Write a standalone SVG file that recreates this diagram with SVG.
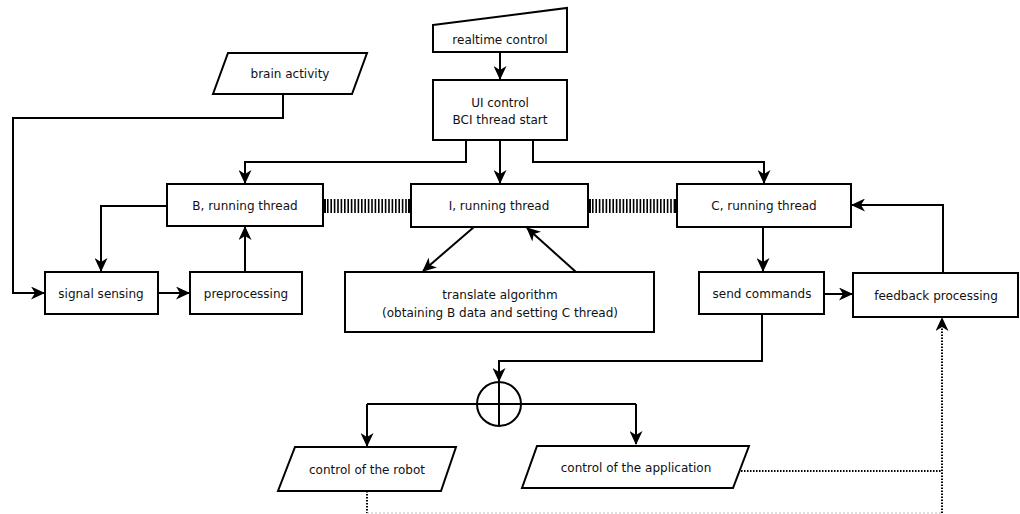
<svg xmlns="http://www.w3.org/2000/svg" width="1020" height="514" viewBox="0 0 1020 514">
<style>
.n{fill:#fff;stroke:#000;stroke-width:2}
.t{font-family:"DejaVu Sans",Verdana,sans-serif;font-size:12px;fill:#111;text-anchor:middle}
.c{fill:none;stroke:#000;stroke-width:2}
.a{marker-end:url(#arr)}
.d{fill:none;stroke:#000;stroke-width:2;stroke-dasharray:1.5 1.5}
.bar{fill:none;stroke:#000;stroke-width:14;stroke-dasharray:1.6 1.8}
.blk{fill:#000}
</style>
<defs>
<marker id="arr" markerUnits="userSpaceOnUse" markerWidth="14" markerHeight="13" refX="13" refY="6.5" orient="auto">
<path d="M0,0 L14,6.5 L0,13 L4,6.5 Z" fill="#000"/>
</marker>
</defs>
<rect width="1020" height="514" fill="#fff"/>
<g id="connectors">
<path class="c a" d="M500,52 V79"/>
<path class="c a" d="M466,140 V162 H245 V183"/>
<path class="c a" d="M500,140 V183"/>
<path class="c a" d="M533,140 V162 H764 V183"/>
<path class="c a" d="M283,94 V118 H13 V293 H44"/>
<path class="c a" d="M167,206 H101 V271"/>
<path class="c a" d="M158,293 H189"/>
<path class="c a" d="M245,272 V227"/>
<path class="c a" d="M474,227 L423,271"/>
<path class="c a" d="M576,272 L527,228"/>
<path class="c a" d="M763,227 V271"/>
<path class="c a" d="M824,294 H852"/>
<path class="c a" d="M943,273 V205 H852"/>
<path class="c a" d="M762,314 V361 H499 V381"/>
<path class="c a" d="M367,404 V446"/>
<path class="c a" d="M636,404 V444"/>
<path class="d" d="M741,471 H942"/>
<path class="d" d="M367,491 V513"/>
<path d="M367,513 H942" fill="none" stroke="#bbb" stroke-width="1" stroke-dasharray="2 2"/>
<path class="d a" d="M942,513 V318"/>
<path class="bar" d="M327,206 H408"/>
<rect class="blk" x="323" y="199" width="3" height="14"/>
<rect class="blk" x="408" y="199" width="3" height="14"/>
<path class="bar" d="M592,206 H674"/>
<rect class="blk" x="588" y="199" width="3" height="14"/>
<rect class="blk" x="674" y="199" width="3" height="14"/>
</g>
<g id="realtime-control">
<path class="n" d="M433,25 L567,8 L567,52 L433,52 Z"/>
<text class="t" x="500" y="44">realtime control</text>
</g>
<g id="ui-control">
<rect class="n" x="433" y="80" width="134" height="60"/>
<text class="t" x="500" y="107">UI control</text>
<text class="t" x="500" y="124">BCI thread start</text>
</g>
<g id="brain-activity">
<path class="n" d="M228,53 L367,53 L352,94 L213,94 Z"/>
<text class="t" x="290" y="78">brain activity</text>
</g>
<g id="b-thread">
<rect class="n" x="167" y="184" width="156" height="42"/>
<text class="t" x="245" y="210">B, running thread</text>
</g>
<g id="i-thread">
<rect class="n" x="411" y="184" width="177" height="43"/>
<text class="t" x="499" y="210">I, running thread</text>
</g>
<g id="c-thread">
<rect class="n" x="677" y="184" width="174" height="43"/>
<text class="t" x="764" y="210">C, running thread</text>
</g>
<g id="signal-sensing">
<rect class="n" x="45" y="272" width="113" height="42"/>
<text class="t" x="101" y="298">signal sensing</text>
</g>
<g id="preprocessing">
<rect class="n" x="190" y="272" width="112" height="42"/>
<text class="t" x="246" y="298">preprocessing</text>
</g>
<g id="translate">
<rect class="n" x="345" y="272" width="309" height="60"/>
<text class="t" x="500" y="299">translate algorithm</text>
<text class="t" x="500" y="317">(obtaining B data and setting C thread)</text>
</g>
<g id="send-commands">
<rect class="n" x="699" y="272" width="125" height="42"/>
<text class="t" x="762" y="298">send commands</text>
</g>
<g id="feedback">
<rect class="n" x="853" y="273" width="165" height="44"/>
<text class="t" x="936" y="300">feedback processing</text>
</g>
<g id="junction">
<circle class="n" cx="499" cy="404" r="22"/>
<path class="c" d="M499,382 V426 M477,404 H521 M367,404 H477 M521,404 H636"/>
</g>
<g id="robot">
<path class="n" d="M295,447 L456,447 L441,491 L278,491 Z"/>
<text class="t" x="367" y="474">control of the robot</text>
</g>
<g id="application">
<path class="n" d="M537,446 L749,446 L733,488 L522,488 Z"/>
<text class="t" x="636" y="472">control of the application</text>
</g>
</svg>
